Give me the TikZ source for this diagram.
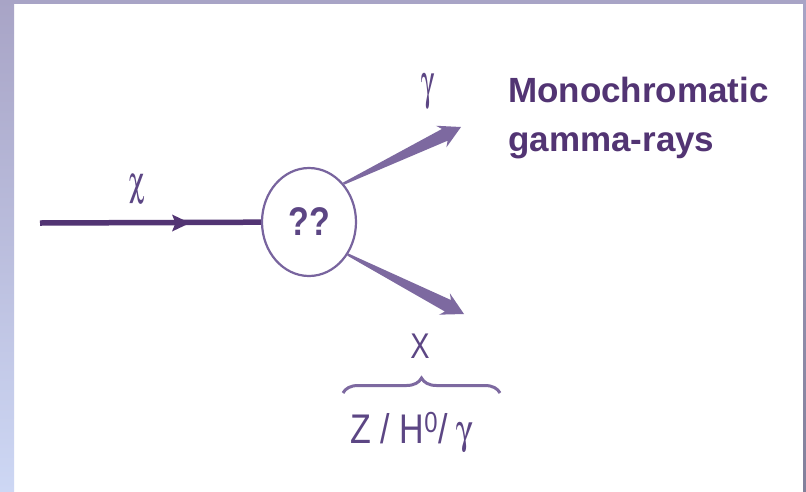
\documentclass[tikz,border=0pt]{standalone}
\usepackage{fontspec}
\usepackage[Symbol]{upgreek}
\setsansfont{Liberation Sans}
\usetikzlibrary{arrows.meta,calc,shapes.geometric,decorations.pathreplacing}

\definecolor{inkdark}{RGB}{82,52,115}
\definecolor{inklabel}{RGB}{92,70,132}
\definecolor{raycol}{RGB}{125,105,160}
\definecolor{rimcol}{RGB}{120,100,158}
\definecolor{framelav}{RGB}{168,164,198}
\definecolor{framelow}{RGB}{205,215,244}
\definecolor{framegray}{RGB}{130,128,155}

\newcommand{\raywedge}[2]{%
  \coordinate (rwh) at ($(#2)!18pt!(#1)$);
  \coordinate (rwb) at ($(#2)!22pt!(#1)$);
  \fill[ray] ($(#1)!1.2pt!90:(#2)$) -- ($(rwh)!6.5pt!90:(#2)$) -- ($(rwb)!12pt!90:(#2)$) -- (#2)
    -- ($(rwb)!12pt!-90:(#2)$) -- ($(rwh)!6.5pt!-90:(#2)$) -- ($(#1)!1.2pt!-90:(#2)$) -- cycle;}

\begin{document}
\begin{tikzpicture}[x=1pt, y=-1pt, font=\sffamily, >=Stealth,
  ray/.style={fill=raycol},
  lbl/.style={text=inklabel, inner sep=0pt},
  chiline/.style={draw=inkdark, line width=5.5pt}]

\useasboundingbox (0,0) rectangle (806,491);
\fill[white] (0,0) rectangle (806,491);
\shade[top color=framelav, bottom color=framelow] (0,0) rectangle (14,491);
\fill[framelav] (14,0) rectangle (806,4);
\shade[top color=framelav, bottom color=framegray] (803,0) rectangle (806,491);

\coordinate (in) at (40,223);
\coordinate (mid) at (190,223);
\coordinate (g1) at (461,127);
\coordinate (g2) at (464,314);
\coordinate (bl) at (343,393);
\coordinate (br) at (500,393);

\node[ellipse, draw=rimcol, line width=2.2pt, minimum width=94pt, minimum height=108pt, inner sep=0pt,
  text=inklabel, font=\sffamily\bfseries\fontsize{40}{40}\selectfont] (blob) at (309,222) {\scalebox{0.85}[1]{??}};

\draw[chiline] (in) -- (blob);
\fill[inkdark] (mid) -- ++(-18,-8.5) -- ++(3.5,8.5) -- ++(-3.5,8.5) -- cycle;

\raywedge{blob.48}{g1}
\raywedge{blob.-40}{g2}

\node[lbl, font=\fontsize{34}{34}\selectfont] (chi) at (137,190) {\scalebox{0.85}[1.25]{$\upchi$}};
\node[lbl, font=\fontsize{34}{34}\selectfont] (gam) at (428,92) {\scalebox{0.8}[1.45]{$\upgamma$}};

\node[anchor=north west, inner sep=0pt, align=left, text=inkdark,
  font=\sffamily\bfseries\fontsize{35}{49}\selectfont] (mono) at (508,77) {Monochromatic\\gamma-rays};

\node[lbl, anchor=base, font=\sffamily\fontsize{34}{34}\selectfont] (xlab) at (420,358) {\scalebox{0.85}[1.05]{X}};
\draw[raycol, line width=3pt, decorate, decoration={brace, amplitude=15pt}] (bl) -- (br);
\node[lbl, anchor=base, font=\sffamily\fontsize{37}{37}\selectfont] (zhg) at (412,443)
  {\scalebox{0.92}[1.12]{Z / H\textsuperscript{0}/ $\upgamma$}};

\end{tikzpicture}
\end{document}
